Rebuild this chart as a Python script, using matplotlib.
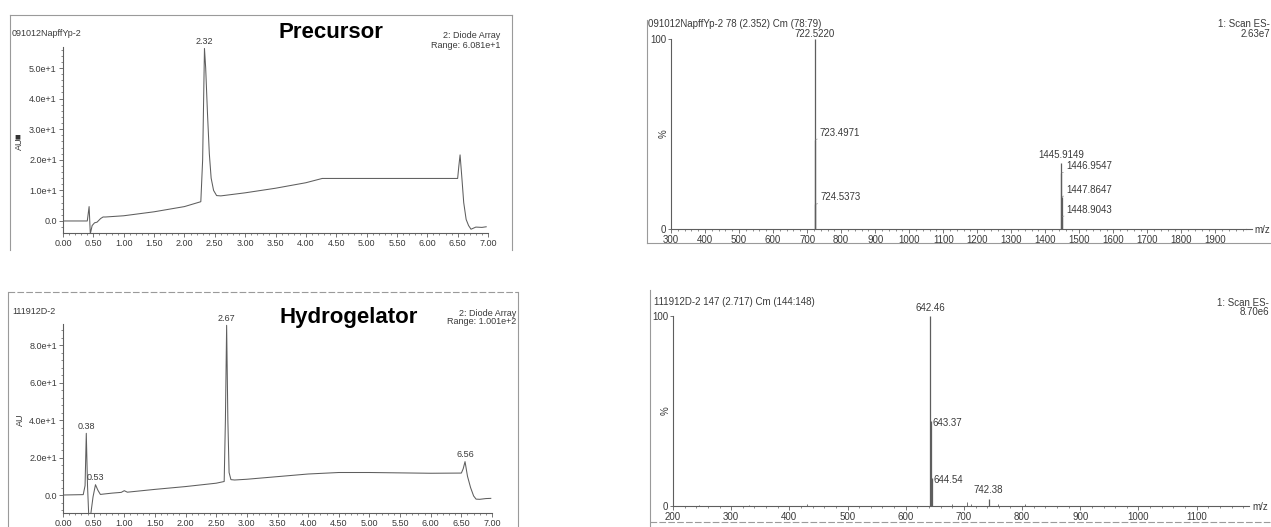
import matplotlib
matplotlib.use("Agg")
import matplotlib.pyplot as plt
from matplotlib.lines import Line2D
from matplotlib.ticker import MultipleLocator

# ---------------- data ----------------
# Precursor HPLC trace (retention time in min, absorbance)
pre_time = [0.00, 0.40, 0.43, 0.45, 0.48, 0.52, 0.56, 0.62, 0.66, 0.70, 1.00, 1.50, 2.00,
            2.27, 2.30, 2.33, 2.35, 2.38, 2.41, 2.44, 2.48, 2.53, 2.60, 3.00, 3.50, 4.00,
            4.27, 5.00, 6.00, 6.50, 6.52, 6.54, 6.57, 6.60, 6.64, 6.68, 6.72, 6.80, 6.90, 6.97]
pre_abs = [0.0, 0.0, 4.7, -4.2, -1.5, -0.6, -0.4, 0.8, 1.3, 1.3, 1.7, 3.0, 4.7,
           6.3, 20.0, 56.4, 50.0, 35.0, 22.0, 14.0, 10.0, 8.3, 8.2, 9.2, 10.7, 12.5,
           13.9, 13.9, 13.9, 13.9, 18.0, 21.6, 14.0, 6.0, 0.5, -1.5, -2.7, -2.0, -2.1, -1.9]

# Hydrogelator HPLC trace
gel_time = [0.00, 0.33, 0.36, 0.38, 0.40, 0.42, 0.45, 0.49, 0.53, 0.57, 0.61, 0.66, 0.80,
            0.95, 1.00, 1.05, 1.50, 2.00, 2.50, 2.63, 2.65, 2.67, 2.69, 2.71, 2.74, 2.80,
            3.00, 3.50, 4.00, 4.50, 5.00, 5.50, 6.00, 6.50, 6.53, 6.56, 6.60, 6.65, 6.70,
            6.74, 6.80, 6.90, 6.98]
gel_abs = [0.0, 0.2, 5.0, 32.9, 5.0, -11.0, -11.0, -1.0, 5.5, 2.5, 0.3, 0.5, 1.0,
           1.4, 2.3, 1.5, 3.0, 4.5, 6.3, 7.2, 40.0, 90.5, 40.0, 12.0, 8.2, 8.0,
           8.4, 9.8, 11.2, 12.0, 12.0, 11.8, 11.6, 11.7, 14.0, 17.8, 10.0, 4.0, -0.5,
           -2.2, -2.3, -1.9, -1.8]

pre_peak_labels = [2.32]
pre_peak_label_y = [56.4]
gel_peak_labels = [0.38, 0.53, 2.67, 6.56]
gel_peak_label_y = [32.9, 5.5, 90.5, 17.8]

hplc_xticks = [0.0, 0.5, 1.0, 1.5, 2.0, 2.5, 3.0, 3.5, 4.0, 4.5, 5.0, 5.5, 6.0, 6.5, 7.0]
pre_yticks = [0, 10, 20, 30, 40, 50]
pre_yticklabels = ["0.0", "1.0e+1", "2.0e+1", "3.0e+1", "4.0e+1", "5.0e+1"]
gel_yticks = [0, 20, 40, 60, 80]
gel_yticklabels = ["0.0", "2.0e+1", "4.0e+1", "6.0e+1", "8.0e+1"]

# Mass spectra (m/z, relative intensity %)
pre_mz = [722.5220, 723.4971, 724.5373, 1445.9149, 1446.9547, 1447.8647, 1448.9043]
pre_int = [100, 47, 13, 35, 29.5, 17, 6.5]
pre_ms_xticks = [300, 400, 500, 600, 700, 800, 900, 1000, 1100, 1200, 1300, 1400,
                 1500, 1600, 1700, 1800, 1900]

gel_mz = [642.46, 643.37, 644.54, 742.38]
gel_int = [100, 45, 15, 3.7]
gel_minor_mz = [245, 330, 430, 680, 705, 712, 758, 805]
gel_minor_int = [0.5, 0.4, 0.8, 1.0, 2.0, 1.2, 1.2, 0.8]
gel_ms_xticks = [200, 300, 400, 500, 600, 700, 800, 900, 1000, 1100]

# ---------------- style ----------------
W, H = 1271, 527
NARROW = ['Liberation Sans Narrow', 'Liberation Sans', 'DejaVu Sans']
plt.rcParams['font.family'] = NARROW
TXT = '#3a3a3a'
LN = '#5e5e5e'
FS = 6.5
FSR = 7

fig = plt.figure(figsize=(W / 100, H / 100), dpi=100)
fig.patch.set_facecolor('white')


def rect(x0, y_top, x1, y_bot):
    return [x0 / W, 1 - y_bot / H, (x1 - x0) / W, (y_bot - y_top) / H]


def fx(x):
    return x / W


def fy(y):
    return 1 - y / H


def fline(xs, ys, ls='-', color='#9a9a9a', lw=0.8):
    fig.add_artist(Line2D([fx(v) for v in xs], [fy(v) for v in ys], color=color,
                          lw=lw, ls=ls, transform=fig.transFigure))


def ftext(x, y, s, **kw):
    kw.setdefault('color', TXT)
    kw.setdefault('fontsize', FS)
    fig.text(fx(x), fy(y), s, **kw)


def style_axes(ax, fs=FS):
    for s in ('top', 'right'):
        ax.spines[s].set_visible(False)
    for s in ('left', 'bottom'):
        ax.spines[s].set_color(LN)
        ax.spines[s].set_linewidth(0.8)
    ax.tick_params(which='major', length=3, width=0.6, color=LN, labelsize=fs,
                   labelcolor=TXT, pad=1.5)
    ax.tick_params(which='minor', length=1.5, width=0.5, color=LN)
    ax.set_facecolor('none')


# ---------------- frames ----------------
fline([10, 10], [15, 250])
fline([10, 512], [15, 15])
fline([512, 512], [15, 250])
fline([8, 518], [292, 292], ls=(0, (6, 2)))
fline([8, 8], [292, 527])
fline([518, 518], [292, 527])
fline([647, 647], [20, 243])
fline([647, 1271], [243, 243])
fline([650, 650], [290, 527])
fline([650, 1271], [522, 522], ls=(0, (6, 2)))

# ---------------- top-left HPLC ----------------
ax1 = fig.add_axes(rect(63, 46.6, 488, 232.9))
style_axes(ax1)
ax1.plot(pre_time, pre_abs, color=LN, lw=0.75)
ax1.set_xlim(0, 7)
ax1.set_ylim(-3.9, 57)
ax1.set_xticks(hplc_xticks)
ax1.set_xticklabels([f"{v:.2f}" for v in hplc_xticks])
ax1.xaxis.set_minor_locator(MultipleLocator(0.1))
ax1.set_yticks(pre_yticks)
ax1.set_yticklabels(pre_yticklabels)
ax1.yaxis.set_minor_locator(MultipleLocator(2))
for xv, yv in zip(pre_peak_labels, pre_peak_label_y):
    ax1.annotate(f"{xv:.2f}", (xv, yv), xytext=(0, 2), textcoords='offset points',
                 ha='center', va='bottom', fontsize=FS, color=TXT, annotation_clip=False)

ftext(12, 33, "091012NapffYp-2", va='center')
ftext(331, 32, "Precursor", ha='center', va='center', fontsize=16, fontweight='bold',
      color='black', family=['Liberation Sans', 'DejaVu Sans'])
ftext(500, 35, "2: Diode Array", ha='right', va='center')
ftext(500, 45, "Range: 6.081e+1", ha='right', va='center')
ftext(19, 144, "AU", ha='center', va='center', rotation=90)
ftext(17, 137, "\u25a0", ha='center', va='center', fontsize=4.5, color='#333333',
      family=['DejaVu Sans'])

# ---------------- bottom-left HPLC ----------------
ax2 = fig.add_axes(rect(63, 324.4, 492, 513))
style_axes(ax2)
ax2.plot(gel_time, gel_abs, color=LN, lw=0.75)
ax2.set_xlim(0, 7)
ax2.set_ylim(-9.6, 91)
ax2.set_xticks(hplc_xticks)
ax2.set_xticklabels([f"{v:.2f}" for v in hplc_xticks])
ax2.xaxis.set_minor_locator(MultipleLocator(0.1))
ax2.set_yticks(gel_yticks)
ax2.set_yticklabels(gel_yticklabels)
ax2.yaxis.set_minor_locator(MultipleLocator(4))
for xv, yv in zip(gel_peak_labels, gel_peak_label_y):
    ax2.annotate(f"{xv:.2f}", (xv, yv), xytext=(0, 2), textcoords='offset points',
                 ha='center', va='bottom', fontsize=FS, color=TXT, annotation_clip=False)

ftext(12, 312, "111912D-2", va='center')
ftext(349, 317, "Hydrogelator", ha='center', va='center', fontsize=16,
      fontweight='bold', color='black', family=['Liberation Sans', 'DejaVu Sans'])
ftext(516, 313, "2: Diode Array", ha='right', va='center')
ftext(516, 322, "Range: 1.001e+2", ha='right', va='center')
ftext(20, 420, "AU", ha='center', va='center', rotation=90)

# ---------------- top-right MS ----------------
ax3 = fig.add_axes(rect(671, 39, 1246, 229))
style_axes(ax3, FSR)
ax3.vlines(pre_mz, 0, pre_int, color=LN, lw=0.9, clip_on=False)
ax3.set_xlim(300, 1990)
ax3.set_ylim(0, 100)
ax3.set_xticks(pre_ms_xticks)
ax3.xaxis.set_minor_locator(MultipleLocator(20))
ax3.set_yticks([0, 100])
ax3.set_yticklabels(["0", "100"])
ax3.tick_params(axis='y', which='major', length=2)
ax3.annotate(f"{pre_mz[0]:.4f}", (pre_mz[0], pre_int[0]), xytext=(0, 0),
             textcoords='offset points', ha='center', va='bottom', fontsize=FSR,
             color=TXT, annotation_clip=False)
ax3.annotate(f"{pre_mz[3]:.4f}", (pre_mz[3], pre_int[3]), xytext=(0, 2),
             textcoords='offset points', ha='center', va='bottom', fontsize=FSR,
             color=TXT, annotation_clip=False)
for i in (1, 2, 4, 5, 6):
    ax3.annotate(f"{pre_mz[i]:.4f}", (pre_mz[i], pre_int[i]), xytext=(3.5, 1.5),
                 textcoords='offset points', ha='left', va='bottom', fontsize=FSR,
                 color=TXT, annotation_clip=False,
                 arrowprops=dict(arrowstyle='-', color='#8a8a8a', lw=0.5,
                                 shrinkA=0, shrinkB=0.5, relpos=(0.05, 0.0)))
ftext(648, 24, "091012NapffYp-2 78 (2.352) Cm (78:79)", va='center', fontsize=FSR)
ftext(1270, 24, "1: Scan ES-", ha='right', va='center', fontsize=FSR)
ftext(1270, 34, "2.63e7", ha='right', va='center', fontsize=FSR)
ftext(664, 134, "%", ha='center', va='center', rotation=90, fontsize=FSR)
ftext(1254, 230, "m/z", ha='left', va='center', fontsize=FSR)
fline([1246, 1252], [229, 229], color=LN)

# ---------------- bottom-right MS ----------------
ax4 = fig.add_axes(rect(673, 316, 1249, 506))
style_axes(ax4, FSR)
ax4.vlines(gel_mz, 0, gel_int, color=LN, lw=0.9, clip_on=False)
ax4.vlines(gel_minor_mz, 0, gel_minor_int, color=LN, lw=0.6)
ax4.set_xlim(200, 1190)
ax4.set_ylim(0, 100)
ax4.set_xticks(gel_ms_xticks)
ax4.xaxis.set_minor_locator(MultipleLocator(20))
ax4.set_yticks([0, 100])
ax4.set_yticklabels(["0", "100"])
ax4.tick_params(axis='y', which='major', length=2)
ax4.annotate(f"{gel_mz[0]:.2f}", (gel_mz[0], gel_int[0]), xytext=(0, 2),
             textcoords='offset points', ha='center', va='bottom', fontsize=FSR,
             color=TXT, annotation_clip=False)
for i in (1, 2):
    ax4.annotate(f"{gel_mz[i]:.2f}", (gel_mz[i], gel_int[i]), xytext=(1, -2),
                 textcoords='offset points', ha='left', va='center', fontsize=FSR,
                 color=TXT, annotation_clip=False)
ax4.annotate(f"{gel_mz[3]:.2f}", (gel_mz[3], gel_int[3]), xytext=(0, 3),
             textcoords='offset points', ha='center', va='bottom', fontsize=FSR,
             color=TXT, annotation_clip=False)
ftext(654, 302, "111912D-2 147 (2.717) Cm (144:148)", va='center', fontsize=FSR)
ftext(1269, 303, "1: Scan ES-", ha='right', va='center', fontsize=FSR)
ftext(1269, 312, "8.70e6", ha='right', va='center', fontsize=FSR)
ftext(666, 411, "%", ha='center', va='center', rotation=90, fontsize=FSR)
ftext(1268, 507, "m/z", ha='right', va='center', fontsize=FSR)

fig.savefig("out.png", dpi=100, facecolor='white')
